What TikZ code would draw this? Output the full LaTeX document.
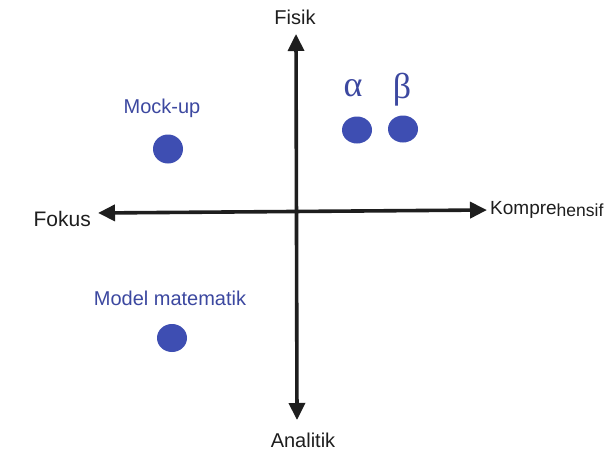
\documentclass[tikz,border=0pt]{standalone}
\usepackage{fontspec}
\setmainfont{Liberation Sans}
\newfontfamily\greekfont{Liberation Serif}
\usetikzlibrary{arrows.meta,shapes.geometric}
\definecolor{axisc}{RGB}{30,30,30}
\definecolor{dotc}{RGB}{62,78,178}
\definecolor{labc}{RGB}{60,72,160}
\tikzset{
  axis/.style={line width=3.6pt, draw=axisc, {Triangle[length=17pt,width=16pt]}-{Triangle[length=17pt,width=16pt]}},
  axlab/.style={text=axisc, font=\fontsize{20}{24}\selectfont, inner sep=0pt},
  bluelab/.style={text=labc, font=\fontsize{20}{24}\selectfont, inner sep=0pt},
  greek/.style={text=labc, font=\greekfont\fontsize{36}{40}\selectfont, inner sep=0pt},
  dot/.style={ellipse, fill=dotc, draw=none, minimum width=30pt, minimum height=29pt, inner sep=0pt}
}
\begin{document}
\begin{tikzpicture}[x=1pt,y=-1pt]
\useasboundingbox[fill=white] (0,0) rectangle (608,455);
% axis ends
\coordinate (top) at (296,34);
\coordinate (bot) at (297,420);
\coordinate (left) at (98,213);
\coordinate (right) at (487,210);
\draw[axis] (top) -- (bot);
\draw[axis] (left) -- (right);
% axis labels
\node[axlab] (fisik) at (295,17) {Fisik};
\node[axlab] (analitik) at (303,440) {Analitik};
\node[axlab, anchor=east, font=\fontsize{21}{24}\selectfont] (fokus) at (91,219) {Fokus};
\node[axlab, anchor=west, font=\fontsize{19}{24}\selectfont] (kompre) at (490,210) {Kompre\raisebox{-2pt}{\fontsize{17.5}{20}\selectfont hensif}};
% points
\node[bluelab] (mocklab) at (162,108) {Mock-up};
\node[dot] (mock) at (168,149) {};
\node[greek] (alab) at (353,88) {α};
\node[dot, minimum height=27pt] (adot) at (357,130) {};
\node[greek] (blab) at (402,90) {β};
\node[dot, minimum height=27pt] (bdot) at (403,129) {};
\node[bluelab] (modlab) at (170,298) {Model matematik};
\node[dot, minimum height=28pt] (moddot) at (172,338) {};
\end{tikzpicture}
\end{document}
